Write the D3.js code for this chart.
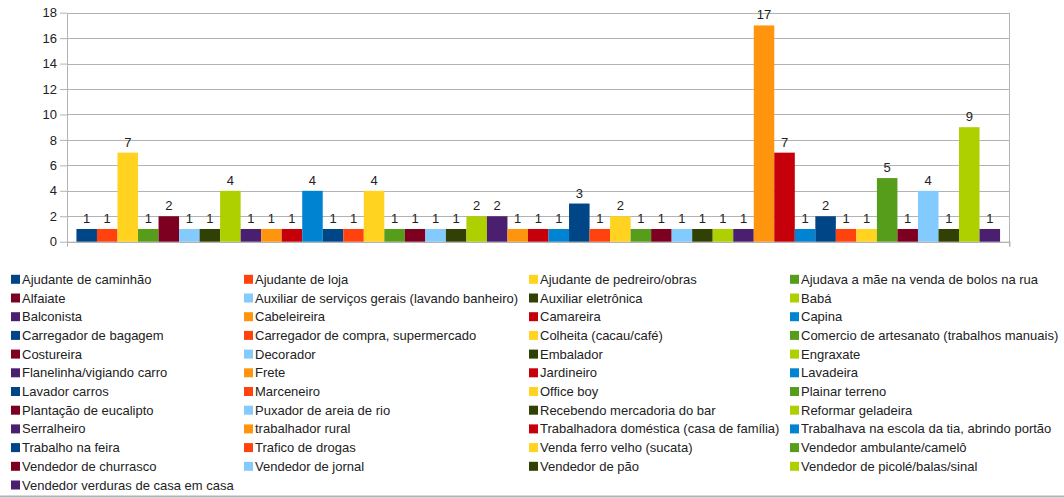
<!DOCTYPE html>
<html>
<head>
<meta charset="utf-8">
<script src="https://cdn.jsdelivr.net/npm/d3@7"></script>
<style>
  body { margin: 0; background: #fff; }
  svg text { font-family: "Liberation Sans", Arial, sans-serif; }
</style>
</head>
<body>
<div id="chart"></div>
<script>
const categories = [
  'Ajudante de caminhão', 'Ajudante de loja', 'Ajudante de pedreiro/obras', 'Ajudava a mãe na venda de bolos na rua',
  'Alfaiate', 'Auxiliar de serviços gerais (lavando banheiro)', 'Auxiliar eletrônica', 'Babá',
  'Balconista', 'Cabeleireira', 'Camareira', 'Capina',
  'Carregador de bagagem', 'Carregador de compra, supermercado', 'Colheita (cacau/café)', 'Comercio de artesanato (trabalhos manuais)',
  'Costureira', 'Decorador', 'Embalador', 'Engraxate',
  'Flanelinha/vigiando carro', 'Frete', 'Jardineiro', 'Lavadeira',
  'Lavador carros', 'Marceneiro', 'Office boy', 'Plainar terreno',
  'Plantação de eucalipto', 'Puxador de areia de rio', 'Recebendo mercadoria do bar', 'Reformar geladeira',
  'Serralheiro', 'trabalhador rural', 'Trabalhadora doméstica (casa de família)', 'Trabalhava na escola da tia, abrindo portão',
  'Trabalho na feira', 'Trafico de drogas', 'Venda ferro velho (sucata)', 'Vendedor ambulante/camelô',
  'Vendedor de churrasco', 'Vendedor de jornal', 'Vendedor de pão', 'Vendedor de picolé/balas/sinal',
  'Vendedor verduras de casa em casa'
]
const values = [
  1, 1, 7, 1,
  2, 1, 1, 4,
  1, 1, 1, 4,
  1, 1, 4, 1,
  1, 1, 1, 2,
  2, 1, 1, 1,
  3, 1, 2, 1,
  1, 1, 1, 1,
  1, 17, 7, 1,
  2, 1, 1, 5,
  1, 4, 1, 9,
  1
]
const palette = ['#004586', '#ff420e', '#ffd320', '#579d1c', '#7e0021', '#83caff',
  '#314004', '#aecf00', '#4b1f6f', '#ff950e', '#c5000b', '#0084d1']
const yTicks = [0, 2, 4, 6, 8, 10, 12, 14, 16, 18]

const width = 1064, height = 498
const plot = {left: 67, right: 1009.5, top: 12.7, bottom: 241.7}

const data = categories.map((c, i) => ({name: c, value: values[i], i}))

const svg = d3.select('#chart').append('svg')
  .attr('width', width)
  .attr('height', height)

const y = d3.scaleLinear().domain([0, 18]).range([plot.bottom, plot.top])
const x = d3.scaleBand()
  .domain(data.map(d => d.i))
  .range([plot.left, plot.right])
  .paddingInner(0)
  .paddingOuter(0.46)
const color = d3.scaleOrdinal().domain(d3.range(categories.length)).range(palette)

// gridlines
svg.append('g')
  .selectAll('line')
  .data(yTicks)
  .join('line')
  .attr('x1', plot.left).attr('x2', plot.right)
  .attr('y1', d => Math.round(y(d)) + 0.5).attr('y2', d => Math.round(y(d)) + 0.5)
  .attr('stroke', '#b3b3b3')

// right border
svg.append('line')
  .attr('x1', plot.right).attr('x2', plot.right)
  .attr('y1', plot.top).attr('y2', plot.bottom + 5)
  .attr('stroke', '#b3b3b3')

// y axis
const yAxis = d3.axisLeft(y).tickValues(yTicks).tickSize(7).tickSizeOuter(0).tickPadding(3)
const yG = svg.append('g').attr('transform', `translate(${plot.left},0)`).call(yAxis)
yG.select('.domain').attr('stroke', '#b3b3b3')
yG.selectAll('.tick line').attr('stroke', '#b3b3b3')
yG.selectAll('.tick text').attr('fill', '#222').style('font-size', '13px')
  .style('font-family', '"Liberation Sans", Arial, sans-serif')

// x axis (single category, ticks at both ends)
const xEdge = d3.scaleLinear().domain([0, 1]).range([plot.left, plot.right])
const xG = svg.append('g').attr('transform', `translate(0,${plot.bottom})`)
  .call(d3.axisBottom(xEdge).tickValues([0, 1]).tickFormat('').tickSize(5).tickSizeOuter(0))
xG.select('.domain').attr('stroke', '#b3b3b3')
xG.selectAll('.tick line').attr('stroke', '#b3b3b3')

// bars
svg.append('g')
  .selectAll('rect')
  .data(data)
  .join('rect')
  .attr('x', d => x(d.i))
  .attr('y', d => y(d.value))
  .attr('width', x.bandwidth())
  .attr('height', d => y(0) - y(d.value))
  .attr('fill', d => color(d.i))

// value labels
svg.append('g')
  .selectAll('text')
  .data(data)
  .join('text')
  .attr('x', d => x(d.i) + x.bandwidth() / 2)
  .attr('y', d => y(d.value) - 6)
  .attr('text-anchor', 'middle')
  .attr('fill', '#222')
  .style('font-size', '13px')
  .text(d => d.value)

// legend
const legendCols = [11, 244, 529, 790]
const legendTop = 279.3, rowStep = 18.7
const legend = svg.append('g')
  .selectAll('g')
  .data(data)
  .join('g')
  .attr('transform', d => `translate(${legendCols[d.i % 4]},${legendTop + Math.floor(d.i / 4) * rowStep})`)
legend.append('rect')
  .attr('x', 0).attr('y', -4.5)
  .attr('width', 9).attr('height', 9)
  .attr('fill', d => color(d.i))
legend.append('text')
  .attr('x', 11).attr('y', 4.5)
  .attr('fill', '#222')
  .style('font-size', '13px')
  .text(d => d.name)

// bottom frame line
svg.append('line')
  .attr('x1', 0).attr('x2', width)
  .attr('y1', 496.5).attr('y2', 496.5)
  .attr('stroke', '#b3b3b3').attr('stroke-width', 2)
</script>
</body>
</html>
